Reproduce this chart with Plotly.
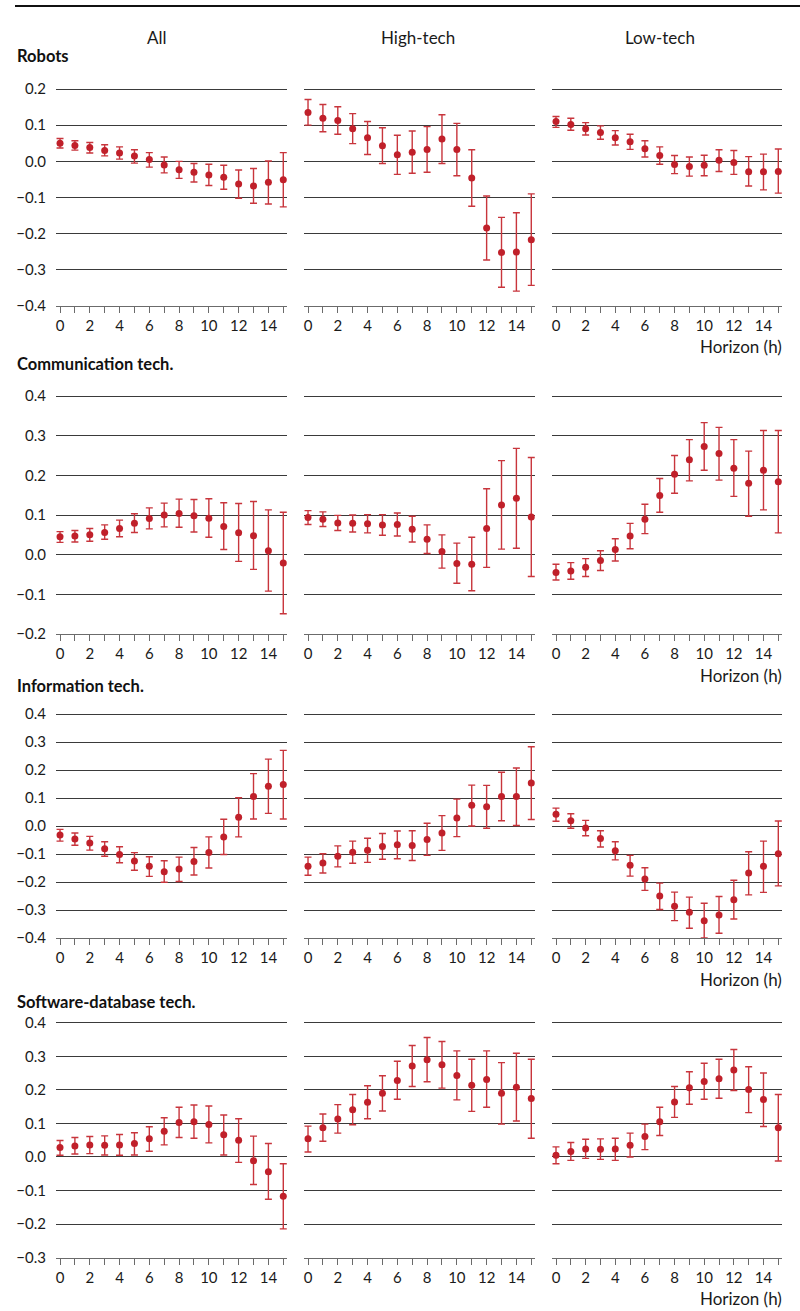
import plotly.graph_objects as go

# ---------------- data ----------------
horizon = list(range(16))
column_titles = ["All", "High-tech", "Low-tech"]
row_titles = ["Robots", "Communication tech.", "Information tech.", "Software-database tech."]
x_tick_labels = [str(h) if h % 2 == 0 else "" for h in horizon]

# Robots
robots_all = [0.050, 0.044, 0.038, 0.030, 0.023, 0.015, 0.005, -0.010, -0.023, -0.030, -0.038, -0.044, -0.063, -0.068, -0.058, -0.051]
robots_all_hi = [0.063, 0.057, 0.052, 0.046, 0.040, 0.032, 0.024, 0.012, 0.000, -0.006, -0.008, -0.011, -0.024, -0.020, 0.001, 0.024]
robots_all_lo = [0.037, 0.031, 0.023, 0.015, 0.006, -0.005, -0.016, -0.032, -0.047, -0.057, -0.067, -0.077, -0.102, -0.116, -0.118, -0.126]
robots_high = [0.135, 0.119, 0.113, 0.090, 0.065, 0.043, 0.018, 0.025, 0.033, 0.062, 0.033, -0.046, -0.184, -0.252, -0.251, -0.217]
robots_high_hi = [0.171, 0.157, 0.151, 0.132, 0.110, 0.093, 0.072, 0.084, 0.096, 0.129, 0.105, 0.032, -0.096, -0.155, -0.142, -0.090]
robots_high_lo = [0.100, 0.082, 0.075, 0.049, 0.019, -0.006, -0.036, -0.033, -0.030, -0.006, -0.040, -0.124, -0.273, -0.348, -0.359, -0.343]
robots_low = [0.110, 0.102, 0.090, 0.080, 0.065, 0.054, 0.035, 0.016, -0.009, -0.014, -0.011, 0.003, -0.003, -0.029, -0.029, -0.028]
robots_low_hi = [0.124, 0.119, 0.107, 0.098, 0.085, 0.075, 0.057, 0.040, 0.016, 0.012, 0.017, 0.032, 0.030, 0.013, 0.020, 0.034]
robots_low_lo = [0.094, 0.086, 0.073, 0.061, 0.045, 0.033, 0.012, -0.008, -0.034, -0.041, -0.040, -0.028, -0.036, -0.068, -0.079, -0.088]

# Communication tech.
comm_all = [0.045, 0.047, 0.050, 0.056, 0.066, 0.079, 0.091, 0.100, 0.104, 0.098, 0.092, 0.071, 0.055, 0.048, 0.010, -0.021]
comm_all_hi = [0.058, 0.061, 0.066, 0.075, 0.087, 0.103, 0.118, 0.130, 0.140, 0.139, 0.141, 0.131, 0.129, 0.134, 0.113, 0.107]
comm_all_lo = [0.031, 0.032, 0.034, 0.039, 0.045, 0.056, 0.065, 0.070, 0.069, 0.057, 0.044, 0.013, -0.017, -0.037, -0.092, -0.149]
comm_high = [0.094, 0.089, 0.080, 0.079, 0.078, 0.075, 0.076, 0.064, 0.039, 0.008, -0.022, -0.024, 0.066, 0.125, 0.142, 0.095]
comm_high_hi = [0.111, 0.108, 0.099, 0.100, 0.101, 0.101, 0.105, 0.097, 0.075, 0.050, 0.029, 0.044, 0.166, 0.237, 0.268, 0.245]
comm_high_lo = [0.076, 0.071, 0.061, 0.057, 0.055, 0.049, 0.047, 0.032, 0.003, -0.034, -0.072, -0.091, -0.032, 0.014, 0.016, -0.055]
comm_low = [-0.045, -0.041, -0.032, -0.015, 0.013, 0.047, 0.089, 0.149, 0.203, 0.239, 0.273, 0.255, 0.218, 0.180, 0.213, 0.184]
comm_low_hi = [-0.024, -0.020, -0.010, 0.010, 0.040, 0.079, 0.127, 0.192, 0.250, 0.290, 0.333, 0.321, 0.290, 0.261, 0.313, 0.313]
comm_low_lo = [-0.064, -0.062, -0.055, -0.040, -0.016, 0.015, 0.053, 0.107, 0.155, 0.186, 0.213, 0.188, 0.147, 0.097, 0.113, 0.055]

# Information tech.
info_all = [-0.032, -0.046, -0.061, -0.081, -0.102, -0.125, -0.144, -0.163, -0.154, -0.127, -0.095, -0.039, 0.031, 0.105, 0.142, 0.148]
info_all_hi = [-0.012, -0.025, -0.037, -0.056, -0.074, -0.095, -0.110, -0.124, -0.111, -0.077, -0.039, 0.024, 0.101, 0.187, 0.239, 0.270]
info_all_lo = [-0.054, -0.069, -0.086, -0.108, -0.131, -0.158, -0.180, -0.201, -0.198, -0.175, -0.150, -0.102, -0.039, 0.025, 0.045, 0.025]
info_high = [-0.144, -0.132, -0.108, -0.094, -0.087, -0.073, -0.067, -0.070, -0.048, -0.025, 0.029, 0.074, 0.069, 0.105, 0.105, 0.154]
info_high_hi = [-0.111, -0.099, -0.071, -0.054, -0.044, -0.027, -0.018, -0.017, 0.010, 0.037, 0.096, 0.146, 0.145, 0.192, 0.207, 0.283]
info_high_lo = [-0.176, -0.168, -0.146, -0.133, -0.130, -0.119, -0.117, -0.123, -0.105, -0.087, -0.038, 0.000, -0.008, 0.019, 0.002, 0.023]
info_low = [0.042, 0.019, -0.007, -0.045, -0.088, -0.140, -0.189, -0.250, -0.287, -0.308, -0.338, -0.318, -0.263, -0.168, -0.144, -0.099]
info_low_hi = [0.064, 0.044, 0.020, -0.017, -0.056, -0.105, -0.149, -0.204, -0.236, -0.254, -0.276, -0.252, -0.194, -0.092, -0.054, 0.018]
info_low_lo = [0.017, -0.008, -0.035, -0.075, -0.121, -0.179, -0.230, -0.298, -0.338, -0.365, -0.400, -0.383, -0.332, -0.246, -0.237, -0.214]

# Software-database tech.
soft_all = [0.028, 0.033, 0.036, 0.035, 0.036, 0.040, 0.054, 0.077, 0.103, 0.105, 0.097, 0.066, 0.050, -0.011, -0.044, -0.117]
soft_all_hi = [0.049, 0.058, 0.061, 0.063, 0.067, 0.072, 0.090, 0.117, 0.148, 0.155, 0.152, 0.125, 0.114, 0.062, 0.040, -0.020]
soft_all_lo = [0.005, 0.009, 0.010, 0.006, 0.005, 0.006, 0.017, 0.036, 0.058, 0.056, 0.042, 0.006, -0.016, -0.082, -0.126, -0.214]
soft_high = [0.054, 0.087, 0.113, 0.141, 0.163, 0.190, 0.228, 0.271, 0.290, 0.275, 0.243, 0.214, 0.231, 0.190, 0.208, 0.174]
soft_high_hi = [0.092, 0.128, 0.156, 0.186, 0.212, 0.242, 0.285, 0.332, 0.356, 0.344, 0.316, 0.291, 0.316, 0.281, 0.309, 0.291]
soft_high_lo = [0.015, 0.047, 0.071, 0.096, 0.114, 0.137, 0.172, 0.210, 0.224, 0.205, 0.170, 0.136, 0.148, 0.098, 0.107, 0.056]
soft_low = [0.005, 0.016, 0.024, 0.023, 0.024, 0.035, 0.061, 0.105, 0.164, 0.206, 0.225, 0.233, 0.259, 0.201, 0.171, 0.087]
soft_low_hi = [0.030, 0.043, 0.053, 0.054, 0.056, 0.071, 0.098, 0.148, 0.210, 0.254, 0.279, 0.291, 0.320, 0.269, 0.250, 0.186]
soft_low_lo = [-0.020, -0.010, -0.004, -0.007, -0.010, 0.000, 0.022, 0.064, 0.118, 0.157, 0.172, 0.175, 0.198, 0.132, 0.091, -0.012]

panels = [
    [(robots_all, robots_all_hi, robots_all_lo), (robots_high, robots_high_hi, robots_high_lo), (robots_low, robots_low_hi, robots_low_lo)],
    [(comm_all, comm_all_hi, comm_all_lo), (comm_high, comm_high_hi, comm_high_lo), (comm_low, comm_low_hi, comm_low_lo)],
    [(info_all, info_all_hi, info_all_lo), (info_high, info_high_hi, info_high_lo), (info_low, info_low_hi, info_low_lo)],
    [(soft_all, soft_all_hi, soft_all_lo), (soft_high, soft_high_hi, soft_high_lo), (soft_low, soft_low_hi, soft_low_lo)],
]
row_y_ranges = [(-0.4, 0.2), (-0.2, 0.4), (-0.4, 0.4), (-0.3, 0.4)]

# ---------------- layout geometry (pixels) ----------------
W, H = 800, 1311
col_px = [(56, 287), (304, 535), (552, 782)]
row_px = [(89, 306), (396, 634), (714, 938), (1022.7, 1257.7)]  # (top gridline, bottom axis)
x_range = [-0.27, 15.25]
FONT = "Lato"
RED = "#c0202a"
BAR = "#c8353c"
GRID = "#3a3a3a"
AXIS = "#6b6b6b"
TXT = "#1a1a1a"

fig = go.Figure()
layout = dict(
    width=W, height=H,
    margin=dict(l=0, r=0, t=0, b=0, autoexpand=False),
    paper_bgcolor="white", plot_bgcolor="white",
    showlegend=False,
    font=dict(family=FONT, size=15, color=TXT),
)

annotations = []
shapes = []

for r in range(4):
    ymin, ymax = row_y_ranges[r]
    top_px, bot_px = row_px[r]
    ppu = (bot_px - top_px) / (ymax - ymin)
    pad = 3
    y_top = ymax + pad / ppu
    dom_y = [1 - bot_px / H, 1 - (top_px - pad) / H]
    for c in range(3):
        k = r * 3 + c + 1
        sfx = "" if k == 1 else str(k)
        est, hi, lo = panels[r][c]
        fig.add_trace(go.Scatter(
            x=horizon, y=est, mode="markers",
            marker=dict(color=RED, size=7),
            error_y=dict(type="data", symmetric=False,
                         array=[h - e for h, e in zip(hi, est)],
                         arrayminus=[e - l for e, l in zip(est, lo)],
                         color=BAR, thickness=1.4, width=3.5),
            xaxis="x" + sfx, yaxis="y" + sfx,
        ))
        layout["xaxis" + sfx] = dict(
            domain=[col_px[c][0] / W, col_px[c][1] / W],
            range=x_range, anchor="y" + sfx,
            showgrid=False, zeroline=False,
            showline=True, linecolor=AXIS, linewidth=1.3,
            ticks="outside", ticklen=6, tickwidth=1.3, tickcolor=AXIS,
            tickvals=horizon, ticktext=x_tick_labels,
            tickfont=dict(family=FONT, size=15, color=TXT),
        )
        layout["yaxis" + sfx] = dict(
            domain=dom_y, range=[ymin, y_top], anchor="x" + sfx,
            showgrid=True, gridcolor=GRID, gridwidth=1.1,
            zeroline=False, showline=False,
            tick0=0, dtick=0.1, tickformat=".1f",
            showticklabels=(c == 0),
            ticks="outside", ticklen=6, tickcolor="rgba(0,0,0,0)",
            tickfont=dict(family=FONT, size=15, color=TXT),
        )
    # Horizon label under right column
    annotations.append(dict(
        text="Horizon (h)", xref="paper", yref="paper",
        x=col_px[2][1] / W + 0.002, y=1 - (bot_px + 41) / H,
        xanchor="right", yanchor="middle", showarrow=False,
        font=dict(family=FONT, size=17, color=TXT),
    ))

# Row titles
row_title_px = [56, 364, 686, 1002]
for t, py in zip(row_titles, row_title_px):
    annotations.append(dict(
        text="<b>" + t + "</b>", xref="paper", yref="paper",
        x=15 / W, y=1 - py / H, xanchor="left", yanchor="middle",
        showarrow=False, font=dict(family=FONT, size=16.5, color="#111"),
    ))

# Column titles
col_title_px = [157, 418, 660]
for t, px in zip(column_titles, col_title_px):
    annotations.append(dict(
        text=t, xref="paper", yref="paper",
        x=px / W, y=1 - 37 / H, xanchor="center", yanchor="middle",
        showarrow=False, font=dict(family=FONT, size=17, color=TXT),
    ))

# Top rule
shapes.append(dict(type="line", xref="paper", yref="paper",
                   x0=15 / W, x1=1, y0=1 - 6 / H, y1=1 - 6 / H,
                   line=dict(color="#111", width=2)))

layout["annotations"] = annotations
layout["shapes"] = shapes
fig.update_layout(**layout)
fig.write_html("out.html", config={"displayModeBar": False},
               post_script="document.body.style.margin='0px';document.body.style.padding='0px';")
